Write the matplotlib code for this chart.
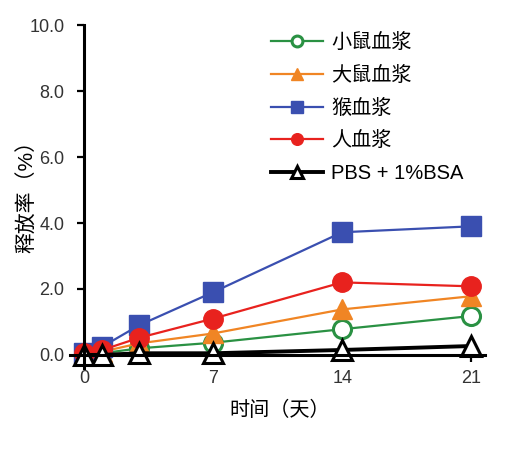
import matplotlib
matplotlib.use('Agg')
import matplotlib.pyplot as plt

plt.rcParams['font.family'] = ['Liberation Sans', 'Noto Sans CJK SC']

# 数据
days = [0, 1, 3, 7, 14, 21]
mouse = [0.0, 0.05, 0.2, 0.37, 0.78, 1.18]
rat = [0.0, 0.1, 0.35, 0.65, 1.38, 1.78]
monkey = [0.05, 0.25, 0.9, 1.9, 3.72, 3.9]
human = [0.05, 0.15, 0.52, 1.1, 2.2, 2.08]
pbs = [0.0, 0.0, 0.05, 0.05, 0.15, 0.27]

labels = ['小鼠血浆', '大鼠血浆', '猴血浆', '人血浆', 'PBS + 1%BSA']
xticks = [0, 7, 14, 21]
yticks = [0, 2, 4, 6, 8, 10]

fig = plt.figure(figsize=(5.06, 4.5), dpi=100)
ax = fig.add_axes([0.138, 0.182, 0.820, 0.762])

ax.plot(days, mouse, color='#2a9143', lw=1.6, marker='o', ms=13,
        mfc='white', mec='#2a9143', mew=2.2, label=labels[0])
ax.plot(days, rat, color='#f08524', lw=1.6, marker='^', ms=14,
        mfc='#f08524', mec='#f08524', label=labels[1])
ax.plot(days, monkey, color='#3a4fb0', lw=1.6, marker='s', ms=14,
        mfc='#3a4fb0', mec='#3a4fb0', label=labels[2])
ax.plot(days, human, color='#e8221e', lw=1.6, marker='o', ms=14,
        mfc='#e8221e', mec='#e8221e', label=labels[3])
ax.plot(days, pbs, color='black', lw=2.8, marker='^', ms=14,
        mfc='white', mec='black', mew=2.2, label=labels[4])

ax.set_xlim(-0.76, 21.73)
ax.set_ylim(-0.4, 10)
ax.spines['top'].set_visible(False)
ax.spines['right'].set_visible(False)
ax.spines['left'].set_position(('data', 0))
ax.spines['bottom'].set_position(('data', 0))
ax.spines['left'].set_linewidth(2.2)
ax.spines['bottom'].set_linewidth(2.2)

ax.set_xticks(xticks)
ax.set_xticklabels([str(d) for d in xticks])
ax.set_yticks(yticks)
ax.set_yticklabels([f'{v:.1f}' for v in yticks])
ax.tick_params(axis='both', direction='out', length=5, width=1.6,
               labelsize=13, labelcolor='#333333')
ax.tick_params(axis='x', pad=6)
ax.tick_params(axis='y', pad=9)

fig.text(0.053, 0.575, '释放率（%）', rotation=90, ha='center', va='center', fontsize=15)
fig.text(0.553, 0.089, '时间（天）', ha='center', va='center', fontsize=14.5)

ax.legend(loc='upper left', bbox_to_anchor=(0.44, 1.03), frameon=False,
          fontsize=14.5, markerscale=0.6, handlelength=2.6, handletextpad=0.4,
          labelspacing=0.68)

fig.savefig('out.png', dpi=100)
